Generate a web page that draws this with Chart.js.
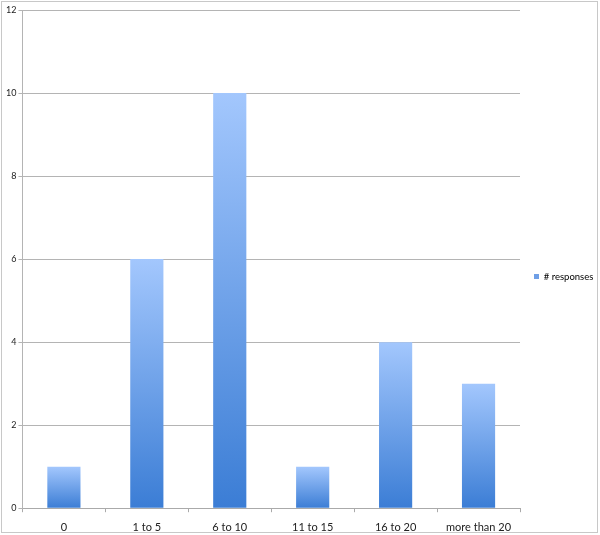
<!DOCTYPE html>
<html>
<head>
<meta charset="utf-8">
<script src="https://cdn.jsdelivr.net/npm/chart.js@4/dist/chart.umd.min.js"></script>
<style>
html,body{margin:0;padding:0;background:#fff;}
#wrap{width:600px;height:535px;position:relative;}
</style>
</head>
<body>
<div id="wrap"><canvas id="c" width="600" height="535"></canvas></div>
<script>
const categories = ["0", "1 to 5", "6 to 10", "11 to 15", "16 to 20", "more than 20"];
const responses = [1, 6, 10, 1, 4, 3];
const seriesName = "# responses";
const yTicks = [0, 2, 4, 6, 8, 10, 12];

function barGradient(context) {
  const chart = context.chart;
  if (context.type !== 'data' || !chart.chartArea || !chart.scales.y) return '#6fa2ea';
  const y = chart.scales.y;
  const top = y.getPixelForValue(context.raw);
  const base = y.getPixelForValue(0);
  if (!isFinite(top) || !isFinite(base) || top === base) return '#6fa2ea';
  const g = chart.ctx.createLinearGradient(0, top, 0, base);
  g.addColorStop(0, '#a3c7fd');
  g.addColorStop(1, '#3b7dd5');
  return g;
}

const framePlugin = {
  id: 'frame',
  afterDraw(chart) {
    const ctx = chart.ctx;
    ctx.save();
    ctx.strokeStyle = '#c8c8c8';
    ctx.lineWidth = 1;
    ctx.strokeRect(1.5, 1.5, 596, 531);
    ctx.restore();
  }
};

new Chart(document.getElementById('c'), {
  type: 'bar',
  data: {
    labels: categories,
    datasets: [{
      label: seriesName,
      data: responses,
      backgroundColor: barGradient,
      borderWidth: 0,
      categoryPercentage: 1,
      barPercentage: 0.4
    }]
  },
  options: {
    responsive: false,
    animation: false,
    devicePixelRatio: 1,
    layout: { padding: { left: 4, top: 10, right: 0, bottom: -8 } },
    plugins: {
      tooltip: { enabled: false },
      legend: {
        position: 'right',
        maxWidth: 80,
        labels: {
          boxWidth: 5,
          boxHeight: 5,
          padding: 14,
          color: '#222',
          generateLabels(chart) {
            return [{ text: seriesName, fillStyle: '#6f9fe6', strokeStyle: '#6f9fe6', lineWidth: 0, hidden: false, datasetIndex: 0 }];
          },
          font: { family: 'Lato, "Open Sans", sans-serif', size: 9.5 }
        }
      }
    },
    scales: {
      x: {
        grid: { display: true, drawOnChartArea: false, drawTicks: true, tickLength: 4, color: '#aaaaaa', offset: true },
        border: { color: '#aaaaaa' },
        ticks: { color: '#222', padding: 11, font: { family: 'Lato, "Open Sans", sans-serif', size: 11, lineHeight: 0.8 }, maxRotation: 0 }
      },
      y: {
        min: 0, max: 12,
        afterBuildTicks(axis) { axis.ticks = yTicks.map(v => ({ value: v })); },
        grid: { color: '#b4b4b4', tickLength: 4, lineWidth: 1 },
        border: { color: '#b4b4b4' },
        ticks: { color: '#222', padding: 2, font: { family: 'Lato, "Open Sans", sans-serif', size: 9 } }
      }
    }
  },
  plugins: [framePlugin]
});
</script>
</body>
</html>
